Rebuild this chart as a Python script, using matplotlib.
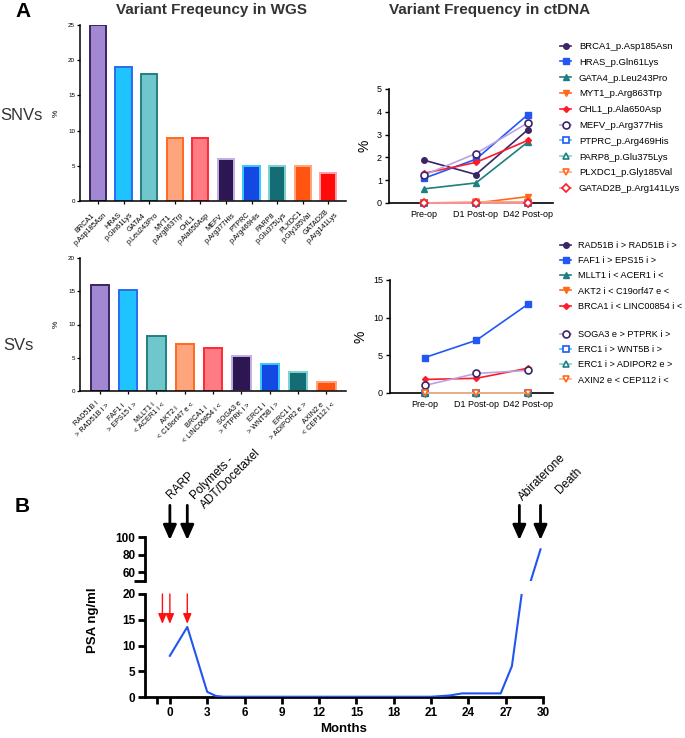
import numpy as np
import matplotlib
matplotlib.use('Agg')
import matplotlib.pyplot as plt

plt.rcParams['font.family'] = ['Liberation Sans', 'DejaVu Sans']

# ---------------------------
# data
# ---------------------------
snv_labels = ['BRCA1\np.Asp185Asn', 'HRAS\np.Gln61Lys', 'GATA4\np.Leu243Pro', 'MYT1\np.Arg863Trp',
              'CHL1\np.Ala650Asp', 'MEFV\np.Arg377His', 'PTPRC\np.Arg469His', 'PARP8\np.Glu375Lys',
              'PLXDC1\np.Gly185Val', 'GATAD2B\np.Arg141Lys']
snv_wgs = [25, 19, 18, 9, 9, 6, 5, 5, 5, 4]

sv_labels = ['RAD51B i\n> RAD51B i >', 'FAF1 i\n> EPS15 i >', 'MLLT1 i\n< ACER1 i <', 'AKT2 i\n< C19orf47 e <',
             'BRCA1 i\n< LINC00854 i <', 'SOGA3 e\n> PTPRK i >', 'ERC1 i\n> WNT5B i >', 'ERC1 i\n> ADIPOR2 e >',
             'AXIN2 e\n< CEP112 i <']
sv_wgs = [16, 15.2, 8.2, 7.1, 6.4, 5.2, 4.1, 2.9, 1.3]

timepoints = ['Pre-op', 'D1 Post-op', 'D42 Post-op']

snv_names = ['BRCA1_p.Asp185Asn', 'HRAS_p.Gln61Lys', 'GATA4_p.Leu243Pro', 'MYT1_p.Arg863Trp',
             'CHL1_p.Ala650Asp', 'MEFV_p.Arg377His', 'PTPRC_p.Arg469His', 'PARP8_p.Glu375Lys',
             'PLXDC1_p.Gly185Val', 'GATAD2B_p.Arg141Lys']
snv_ct = [[1.88, 1.25, 3.22],
          [1.08, 1.92, 3.88],
          [0.62, 0.88, 2.68],
          [0.0, 0.0, 0.28],
          [1.30, 1.78, 2.75],
          [1.22, 2.17, 3.52],
          [0.0, 0.0, 0.0],
          [0.0, 0.0, 0.0],
          [0.0, 0.05, 0.05],
          [0.0, 0.0, 0.0]]

sv_names = ['RAD51B i > RAD51B i >', 'FAF1 i > EPS15 i >', 'MLLT1 i < ACER1 i <', 'AKT2 i < C19orf47 e <',
            'BRCA1 i < LINC00854 i <', 'SOGA3 e > PTPRK i >', 'ERC1 i > WNT5B i >', 'ERC1 i > ADIPOR2 e >',
            'AXIN2 e < CEP112 i <']
sv_ct = [[0.0, 0.0, 0.0],
         [4.7, 7.0, 11.8],
         [0.0, 0.0, 0.0],
         [0.0, 0.0, 0.0],
         [1.8, 1.95, 3.3],
         [1.0, 2.6, 3.0],
         [0.0, 0.0, 0.0],
         [0.0, 0.0, 0.0],
         [0.0, 0.0, 0.0]]

psa_months = [0, 1.4, 3.0, 3.7, 4.3, 21.0, 22.5, 23.5, 26.6, 27.5, 28.4, 29.8]
psa_values = [8.0, 13.6, 1.0, 0.2, 0.05, 0.05, 0.3, 0.7, 0.7, 6.0, 22.0, 86.0]
red_arrow_months = [-0.6, 0.0, 1.4]
event_months = [0.0, 1.4, 28.1, 29.8]
event_labels = ['RARP', 'Polymets -\nADT/Docetaxel', 'Abiraterone', 'Death']

# ---------------------------
# styles
# ---------------------------
bar_fill = ['#A287D3', '#1EC3FF', '#6FC6CB', '#FFA57D', '#FF7C84', '#2C1752', '#1448E3', '#146D74',
            '#FF5511', '#FF0A0A']
bar_edge = ['#3A2660', '#2A6BF2', '#237F85', '#FF6A20', '#FF2A35', '#C3AEE6', '#38C8FF', '#7ED2D2',
            '#FFA57A', '#FFA0A8']

dark = ['#3D2466', '#2257F5', '#1C7F80', '#FF6A1A', '#FF1A2A']
light = ['#B9A3E3', '#38C5FF', '#7DCFD0', '#FFA67A', '#FF8C95']
mk = ['o', 's', '^', 'v', 'D']
mk_size = [4, 4, 4, 4, 3]


def series_style(i):
    j = i % 5
    if i < 5:
        return dict(color=dark[j], marker=mk[j], markersize=mk_size[j], markerfacecolor=dark[j],
                    markeredgecolor=dark[j])
    return dict(color=light[j], marker=mk[j], markersize=5 if j != 4 else 4, markerfacecolor='white',
                markeredgecolor=dark[j], markeredgewidth=1.2)


fig = plt.figure(figsize=(6.85, 7.38), dpi=100)
W, H = 685.0, 738.0


def px_axes(left, top, right, bottom):
    return fig.add_axes([left / W, 1 - bottom / H, (right - left) / W, (bottom - top) / H])


def style_bar_axes(ax):
    for s in ['top', 'right']:
        ax.spines[s].set_visible(False)
    for s in ['left', 'bottom']:
        ax.spines[s].set_linewidth(1.1)
    ax.tick_params(axis='y', labelsize=4.5, length=2.5, width=0.9, pad=1)
    ax.tick_params(axis='x', labelsize=5.2, length=2.5, width=0.9, pad=1)


# ---------------------------
# A: WGS bars
# ---------------------------
ax1 = px_axes(80, 25, 346, 201)
x = np.arange(len(snv_wgs))
ax1.bar(x, snv_wgs, width=0.63, color=bar_fill, edgecolor=bar_edge, linewidth=1.4)
ax1.set_xlim(-0.7, 9.69)
ax1.set_ylim(0, 25)
ax1.set_yticks([0, 5, 10, 15, 20, 25])
ax1.set_xticks(x)
ax1.set_xticklabels(snv_labels, rotation=45, ha='right', va='top', rotation_mode='anchor',
                    multialignment='center')
ax1.set_ylabel('%', fontsize=6, labelpad=6)
style_bar_axes(ax1)

ax2 = px_axes(80, 258, 346, 391)
x2 = np.arange(len(sv_wgs))
ax2.bar(x2, sv_wgs, width=0.64, color=bar_fill[:9], edgecolor=bar_edge[:9], linewidth=1.4)
ax2.set_xlim(-0.7, 8.69)
ax2.set_ylim(0, 20)
ax2.set_yticks([0, 5, 10, 15, 20])
ax2.set_xticks(x2)
ax2.set_xticklabels(sv_labels, rotation=45, ha='right', va='top', rotation_mode='anchor',
                    multialignment='center')
ax2.set_ylabel('%', fontsize=6, labelpad=6)
style_bar_axes(ax2)

# ---------------------------
# A: ctDNA lines
# ---------------------------
def style_line_axes(ax):
    for s in ['top', 'right']:
        ax.spines[s].set_visible(False)
    for s in ['left', 'bottom']:
        ax.spines[s].set_linewidth(1.2)
    ax.tick_params(labelsize=6.5, length=3, width=1, pad=2)


leg_kw = dict(loc='upper left', frameon=False, handlelength=1.2, handletextpad=0.8,
              borderpad=0, borderaxespad=0)

ax3 = px_axes(389, 89, 553, 203)
xt = np.arange(len(timepoints))
h3 = []
for i, (name, vals) in enumerate(zip(snv_names, snv_ct)):
    ln, = ax3.plot(xt, vals, lw=1.2, label=name, clip_on=False, zorder=3, **series_style(i))
    h3.append(ln)
ax3.set_xlim(-0.67, 2.48)
ax3.set_ylim(0, 5)
ax3.set_yticks(range(6))
ax3.set_xticks(xt)
ax3.set_xticklabels(timepoints)
ax3.set_ylabel('%', fontsize=10, labelpad=4)
style_line_axes(ax3)

fig.legend(handles=h3, bbox_to_anchor=(560 / W, 1 - 42 / H), fontsize=6.8, labelspacing=0.72, **leg_kw)

ax4 = px_axes(390, 280, 553, 393)
h4 = []
for i, (name, vals) in enumerate(zip(sv_names, sv_ct)):
    ln, = ax4.plot(xt, vals, lw=1.2, label=name, clip_on=False, zorder=3, **series_style(i))
    h4.append(ln)
ax4.set_xlim(-0.67, 2.48)
ax4.set_ylim(0, 15)
ax4.set_yticks([0, 5, 10, 15])
ax4.set_xticks(xt)
ax4.set_xticklabels(timepoints)
ax4.set_ylabel('%', fontsize=10, labelpad=4)
style_line_axes(ax4)

fig.legend(handles=h4[:5], bbox_to_anchor=(560 / W, 1 - 241 / H), fontsize=6.6, labelspacing=0.68, **leg_kw)
fig.legend(handles=h4[5:], bbox_to_anchor=(560 / W, 1 - 330 / H), fontsize=6.6, labelspacing=0.68, **leg_kw)

# headings
fig.text(15 / W, 1 - 2 / H, 'A', fontsize=15, fontweight='bold', va='top', ha='left')
fig.text(212 / W, 1 - 3 / H, 'Variant Freqeuncy in WGS', fontsize=11, fontweight='bold', va='top', ha='center',
         color='#333333')
fig.text(490 / W, 1 - 3 / H, 'Variant Frequency in ctDNA', fontsize=11, fontweight='bold', va='top', ha='center',
         color='#333333')
fig.text(0, 1 - 115 / H, 'SNVs', fontsize=12, va='center', ha='left', color='#333333')
fig.text(3 / W, 1 - 346 / H, 'SVs', fontsize=12, va='center', ha='left', color='#333333')

# ---------------------------
# B: PSA broken axis
# ---------------------------
narrow = ['Liberation Sans Narrow', 'Liberation Sans', 'DejaVu Sans']
blue = '#2155F0'

axl = px_axes(145, 594, 543, 697)
axu = px_axes(145, 537, 543, 581)

for ax in (axl, axu):
    ax.plot(psa_months, psa_values, color=blue, lw=1.5, zorder=3)
    ax.set_xlim(-2, 30)
    for s in ['top', 'right']:
        ax.spines[s].set_visible(False)
    ax.spines['left'].set_linewidth(2)
    ax.spines['bottom'].set_linewidth(2)
    ax.tick_params(length=5, width=2, pad=2)

axl.set_ylim(0, 20)
axl.set_yticks([0, 5, 10, 15, 20])
axl.set_xticks(range(0, 31, 3))
axl.set_xticks([-1], minor=True)
axl.tick_params(which='minor', length=5, width=2)
for lab in axl.get_xticklabels() + axl.get_yticklabels():
    lab.set_family(narrow)
    lab.set_fontweight('bold')
    lab.set_fontsize(8.5)
axl.set_xlabel('Months', family=narrow, fontweight='bold', fontsize=9.5, labelpad=3)
axl.set_ylabel('PSA ng/ml', family=narrow, fontweight='bold', fontsize=9.5, labelpad=4)
axl.yaxis.set_label_coords(-0.115, 0.75)

axu.set_ylim(50, 100)
axu.set_yticks([50, 60, 80, 100])
axu.set_yticklabels(['', '60', '80', '100'])
axu.spines['bottom'].set_visible(False)
axu.set_xticks([])
for lab in axu.get_yticklabels():
    lab.set_family(narrow)
    lab.set_fontweight('bold')
    lab.set_fontsize(8.5)
tl = axu.yaxis.get_major_ticks()[0]
tl.tick1line.set_markersize(8)

# red arrows
for m in red_arrow_months:
    axl.annotate('', xy=(m, 14.2), xytext=(m, 20), annotation_clip=False,
                 arrowprops=dict(arrowstyle='-|>,head_width=0.25,head_length=0.6', color='#FF1010', lw=1,
                                 shrinkA=0, shrinkB=0))

# black arrows
for m in event_months:
    axu.annotate('', xy=(m, 96.5), xytext=(m, 136), annotation_clip=False,
                 arrowprops=dict(arrowstyle='-|>,head_width=0.4,head_length=0.9', color='black', lw=2,
                                 shrinkA=0, shrinkB=0))

# event labels (anchor = lower-left of rotated text block)
label_pos = [(0.3, 141), (3.0, 129), (28.6, 139), (31.5, 146)]
for (lx, ly), lab in zip(label_pos, event_labels):
    axu.text(lx, ly, lab, rotation=45, rotation_mode='anchor', ha='left', va='bottom',
             fontsize=8.5, clip_on=False)

fig.text(15 / W, 1 - 507 / H, 'B', fontsize=15, fontweight='bold', va='center', ha='left')

fig.savefig('out.png', dpi=100)
